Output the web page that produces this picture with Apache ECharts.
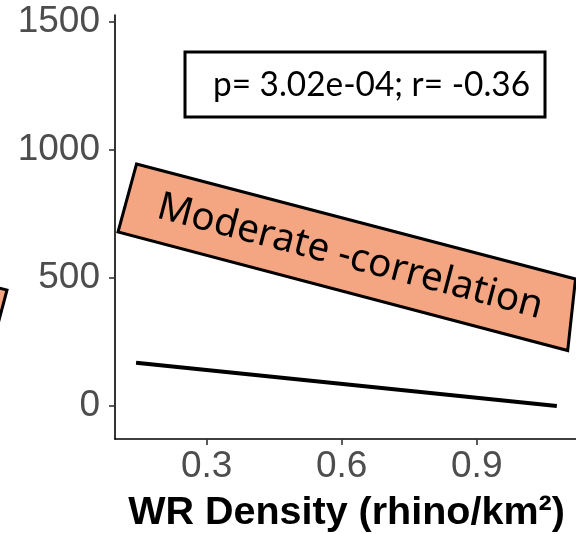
<!DOCTYPE html>
<html>
<head>
<meta charset="utf-8">
<script src="https://cdn.jsdelivr.net/npm/echarts@6/dist/echarts.min.js"></script>
<style>
html,body{margin:0;padding:0;background:#fff;}
#c{width:576px;height:534px;}
</style>
</head>
<body>
<div id="c"></div>
<script>
// Data
var lineX = [0.143, 1.078];
var lineY = [169, 0];
var yTicks = [0, 500, 1000, 1500];
var xTicks = [0.3, 0.6, 0.9];
var statText = 'p= 3.02e-04; r= -0.36';
var corrText = 'Moderate -correlation';
var xTitle = 'WR Density (rhino/km\u00B2)';

function measure(text, font, weight, size) {
  var c = document.createElement('canvas').getContext('2d');
  c.font = weight + ' ' + size + 'px ' + font;
  return c.measureText(text).width;
}

var statSize = 35;
var statScale = 317 / measure(statText, 'Lato', 'normal', statSize);
var corrSize = 39;
var corrScale = 397 / measure(corrText, '"Noto Sans"', 'normal', corrSize);

var chart = echarts.init(document.getElementById('c'), null, {renderer: 'canvas'});
var pts = lineX.map(function (x, i) { return [x, lineY[i]]; });

chart.setOption({
  animation: false,
  backgroundColor: '#fff',
  grid: {left: 115, right: -2, top: 15, bottom: 95, containLabel: false, outerBoundsMode: 'none'},
  xAxis: {
    type: 'value', min: 0.0962, max: 1.125,
    axisLine: {show: true, onZero: false, lineStyle: {color: '#000', width: 1.6}},
    axisTick: {show: true, length: 6, customValues: xTicks, lineStyle: {color: '#333', width: 1.6}},
    axisLabel: {customValues: xTicks, color: '#4d4d4d', fontSize: 37, fontFamily: 'Liberation Sans', margin: 9,
      formatter: function (v) { return v.toFixed(1); }},
    splitLine: {show: false},
    name: xTitle, nameLocation: 'middle', nameGap: 54,
    nameTextStyle: {color: '#000', fontSize: 39.5, fontWeight: 'bold', fontFamily: 'Liberation Sans'}
  },
  yAxis: {
    type: 'value', min: -129, max: 1527,
    axisLine: {show: true, onZero: false, lineStyle: {color: '#000', width: 1.6}},
    axisTick: {show: true, length: 6, customValues: yTicks, lineStyle: {color: '#333', width: 1.6}},
    axisLabel: {customValues: yTicks, color: '#4d4d4d', fontSize: 37, fontFamily: 'Liberation Sans', margin: 15,
      formatter: function (v) { return String(v); }},
    splitLine: {show: false}
  },
  series: [{
    type: 'line', data: pts, symbol: 'none',
    lineStyle: {color: '#000', width: 4}
  }],
  graphic: [
    {
      type: 'polygon', z: 10,
      shape: {points: [[-30, 281], [7, 290], [-11, 358], [-48, 350]]},
      style: {fill: '#F4A582', stroke: '#000', lineWidth: 3}
    },
    {
      type: 'polygon', z: 10,
      shape: {points: [[136.5, 164], [575.5, 279], [567.7, 350.5], [118, 232]]},
      style: {fill: '#F4A582', stroke: '#000', lineWidth: 3}
    },
    {
      type: 'text', z: 11, x: 350, y: 257, rotation: -0.257, scaleX: corrScale,
      style: {text: corrText, font: 'normal ' + corrSize + 'px "Noto Sans"', fill: '#000',
        align: 'center', verticalAlign: 'middle'}
    },
    {
      type: 'rect', z: 10,
      shape: {x: 185, y: 52, width: 360, height: 65},
      style: {fill: '#fff', stroke: '#000', lineWidth: 3}
    },
    {
      type: 'text', z: 11, x: 371.5, y: 85, scaleX: statScale,
      style: {text: statText, font: 'normal ' + statSize + 'px Lato', fill: '#000',
        align: 'center', verticalAlign: 'middle'}
    }
  ]
});
</script>
</body>
</html>
